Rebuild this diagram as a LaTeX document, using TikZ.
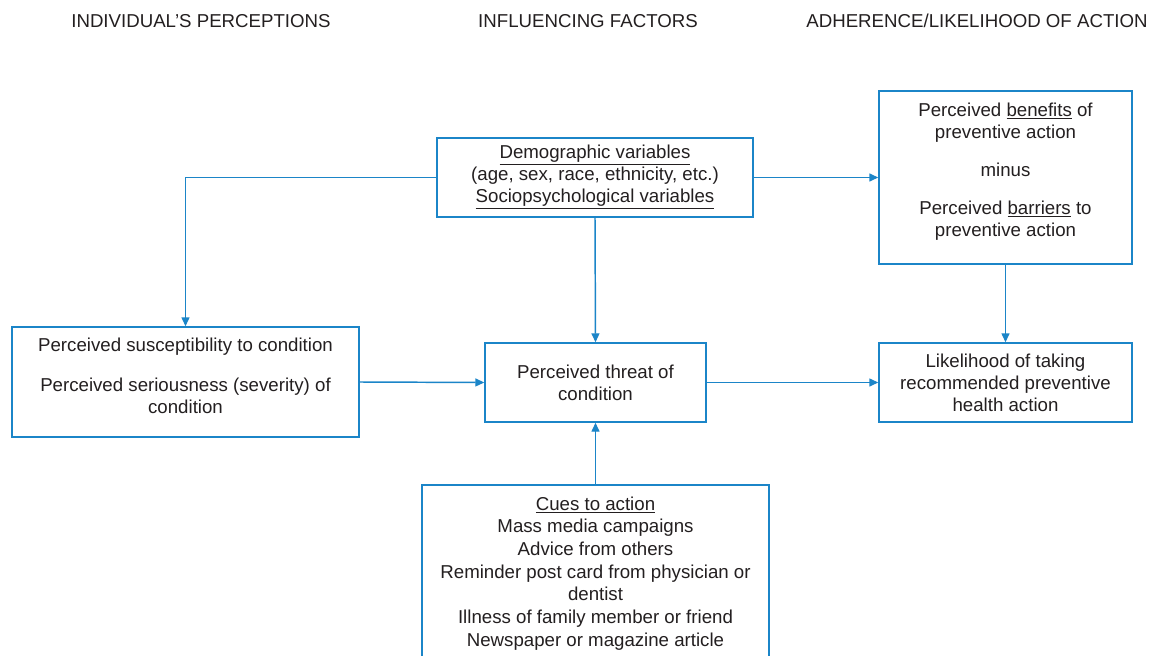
\documentclass[tikz,border=0pt]{standalone}
\usepackage{fontspec}
\setmainfont{Liberation Sans}
\usetikzlibrary{arrows.meta}
\definecolor{lineblue}{HTML}{1B85C8}
\definecolor{txt}{HTML}{231F20}
\begin{document}
\begin{tikzpicture}[x=0.75pt,y=-0.75pt,
  box/.style={draw=lineblue, line width=1.1pt, rectangle, inner sep=0pt, align=center, text=txt, font=\fontsize{14}{16.5}\selectfont},
  head/.style={text=txt, font=\fontsize{14}{16}\selectfont, inner sep=0pt},
  arr/.style={draw=lineblue, line width=1.1pt, -{Triangle[length=6.75pt,width=6pt]}}]
\useasboundingbox (0,0) rectangle (1153,656);
\clip (0,0) rectangle (1153,656);
\fill[white] (0,0) rectangle (1153,656);

\node[head] (h1) at (201,21) {INDIVIDUAL’S PERCEPTIONS};
\node[head] (h2) at (588,21) {INFLUENCING FACTORS};
\node[head] (h3) at (977,21) {ADHERENCE/LIKELIHOOD OF ACTION};

\node[box, minimum width=237pt, minimum height=59.25pt] (demo) at (595,177.5)
  {\underline{Demographic variables}\\(age, sex, race, ethnicity, etc.)\\\underline{Sociopsychological variables}};

\node[box, minimum width=189.75pt, minimum height=129.75pt] (ben) at (1005.5,177.5)
  {Perceived \underline{benefits} of\\preventive action\\[12pt]minus\\[12pt]Perceived \underline{barriers} to\\preventive action\\[-10pt]\strut};

\node[box, minimum width=260.25pt, minimum height=82.5pt] (susc) at (185.5,382)
  {Perceived susceptibility to condition\\[13pt]Perceived seriousness (severity) of\\condition\\[-12pt]\strut};

\node[box, minimum width=165.75pt, minimum height=59.25pt] (threat) at (595.5,382.5)
  {Perceived threat of\\condition};

\node[box, minimum width=189.75pt, minimum height=59.25pt] (like) at (1005.5,382.5)
  {Likelihood of taking\\recommended preventive\\health action};

\node[box, minimum width=260.25pt, minimum height=138.75pt] (cues) at (595.5,577.5) {};
\node[box, draw=none, anchor=north, font=\fontsize{14}{17}\selectfont] (cuestext) at (595.5,496)
  {\underline{Cues to action}\\Mass media campaigns\\Advice from others\\Reminder post card from physician or\\dentist\\Illness of family member or friend\\Newspaper or magazine article};

\draw[arr] (demo.west) -| (susc.north);
\draw[arr] (demo.east) -- (ben.west);
\draw[arr] (demo.south) -- (threat.north);
\draw[arr] (susc.east) -- (threat.west);
\draw[arr] (threat.east) -- (like.west);
\draw[arr] (ben.south) -- (like.north);
\draw[arr] (cues.north) -- (threat.south);
\end{tikzpicture}
\end{document}
